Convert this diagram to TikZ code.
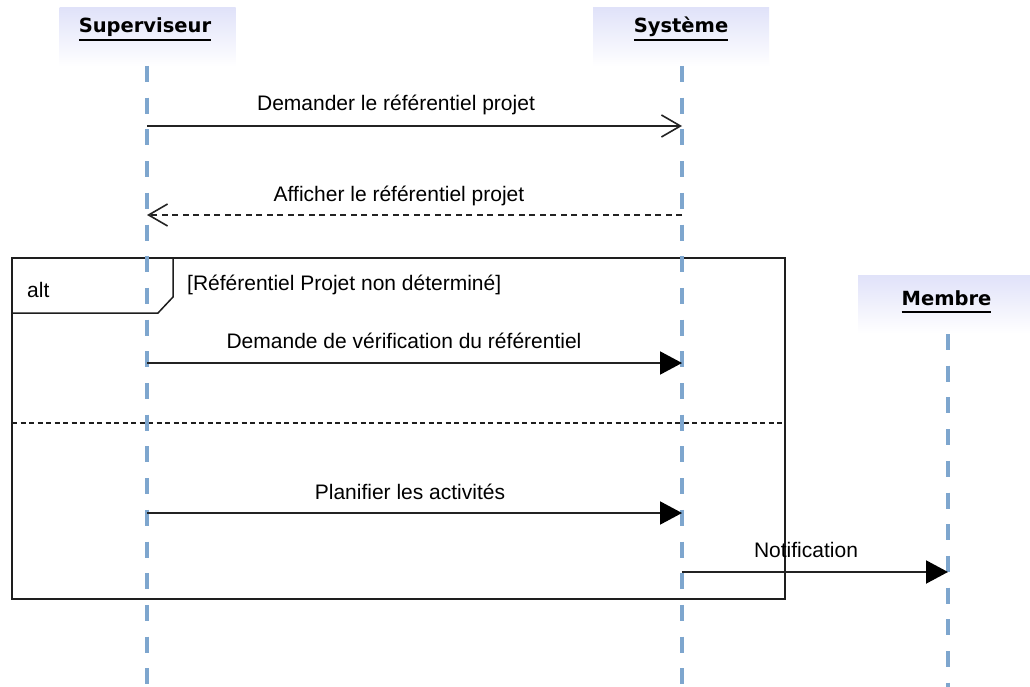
\documentclass[tikz,border=0pt]{standalone}
\usepackage{fontspec}
\setmainfont{Liberation Sans}
\newfontfamily\headfont{DejaVu Sans}[BoldFont={DejaVu Sans Bold}]
\usetikzlibrary{arrows.meta}
\definecolor{lav}{RGB}{224,226,249}
\definecolor{lifeblue}{RGB}{126,166,206}
\definecolor{msgcol}{RGB}{35,35,35}
\definecolor{framecol}{RGB}{30,30,30}
\newcommand\ulhead[1]{\setbox0\hbox{#1}\rlap{\copy0}\raisebox{-8pt}{\rule{\wd0}{2pt}}}
\tikzset{
  headbox/.style={rectangle, minimum width=176pt, minimum height=59pt, inner sep=0pt,
    top color=lav, bottom color=white, draw=none},
  headtext/.style={inner sep=0pt, anchor=base, font=\headfont\bfseries\fontsize{19.5}{22}\selectfont},
  lifeline/.style={draw=lifeblue, line width=3.5pt, dash pattern=on 16pt off 15.7pt},
  lbl/.style={inner sep=0pt, anchor=base, font=\fontsize{21}{25}\selectfont},
  msgsync/.style={draw=msgcol, line width=2pt, -{Triangle[length=22pt,width=23pt,fill=black,color=black]}},
  msgopen/.style={draw=msgcol, line width=2pt, -{Straight Barb[length=19pt,width=22pt,line width=1.6pt]}},
  msgreply/.style={draw=msgcol, line width=1.6pt, dash pattern=on 6pt off 4.5pt, -{Straight Barb[length=19pt,width=22pt,line width=1.6pt]}},
  framebox/.style={draw=framecol, line width=1.5pt},
  sepline/.style={draw=framecol, line width=1.5pt, dash pattern=on 5pt off 3.5pt}
}
\begin{document}
\begin{tikzpicture}[x=1pt,y=-1pt]
\useasboundingbox[fill=white] (0,0) rectangle (1030,687);
% header boxes
\node[headbox] (supbox) at (147.5,37) {};
\node[headbox] (sysbox) at (681,37) {};
\node[headbox, minimum height=58pt] (membox) at (946,304) {};
\node[headtext] (suplbl) at (145,33) {\ulhead{Superviseur}};
\node[headtext] (syslbl) at (681,33) {\ulhead{Système}};
\node[headtext] (memlbl) at (946.5,305) {\ulhead{Membre}};
% lifeline ends
\coordinate (supTop) at (147,66);
\coordinate (sysTop) at (682,66);
\coordinate (memTop) at (948,334);
\coordinate (supBot) at (147,687);
\coordinate (sysBot) at (682,687);
\coordinate (memBot) at (948,687);
% alt frame
\coordinate (frTL) at (12,258);
\coordinate (frBR) at (785,599);
\coordinate (frSepL) at (12,423);
\coordinate (frSepR) at (785,423);
\coordinate (tabA) at (12,313);
\coordinate (tabB) at (158,313);
\coordinate (tabC) at (173,297);
\coordinate (tabD) at (173,258);
\draw[framebox] (frTL) rectangle (frBR);
\draw[framebox] (tabA) -- (tabB) -- (tabC) -- (tabD);
\draw[sepline] (frSepL) -- (frSepR);
\node[lbl, anchor=base west] (altlbl) at (27,297) {alt};
\node[lbl, anchor=base west] (guard) at (187,290) {[Référentiel Projet non déterminé]};
% lifelines
\draw[lifeline] (supTop) -- (supBot);
\draw[lifeline] (sysTop) -- (sysBot);
\draw[lifeline] (memTop) -- (memBot);
% message anchor points
\coordinate (m1s) at (147,126);
\coordinate (m1e) at (682,126);
\coordinate (m2s) at (682,215);
\coordinate (m2e) at (147,215);
\coordinate (m3s) at (147,363);
\coordinate (m3e) at (682,363);
\coordinate (m4s) at (147,513);
\coordinate (m4e) at (682,513);
\coordinate (m5s) at (682,572);
\coordinate (m5e) at (948,572);
% messages
\draw[msgopen] (m1s) -- (m1e);
\draw[msgreply] (m2s) -- (m2e);
\draw[msgsync] (m3s) -- (m3e);
\draw[msgsync] (m4s) -- (m4e);
\draw[msgsync] (m5s) -- (m5e);
% labels
\node[lbl] (l1) at (396,111) {Demander le référentiel projet};
\node[lbl] (l2) at (399,201) {Afficher le référentiel projet};
\node[lbl] (l3) at (404,348) {Demande de vérification du référentiel};
\node[lbl] (l4) at (410,499) {Planifier les activités};
\node[lbl] (l5) at (806,557) {Notification};
\end{tikzpicture}
\end{document}
